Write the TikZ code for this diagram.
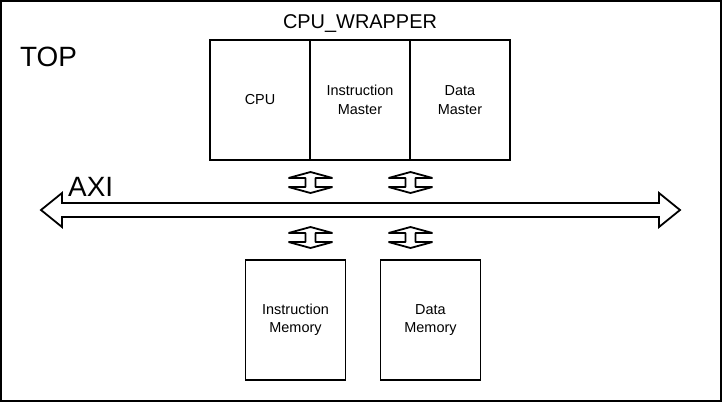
\documentclass[tikz,border=0pt]{standalone}
\usepackage{fontspec}
\setmainfont{Liberation Sans}
\usetikzlibrary{calc}
\begin{document}
\begin{tikzpicture}[x=1bp,y=-1bp,
  box/.style={draw, line width=1.8bp, minimum width=100bp, minimum height=120bp, inner sep=0pt, align=center, font=\fontsize{14.5}{18.5}\selectfont},
  bigtext/.style={font=\fontsize{28}{32}\selectfont, inner sep=0pt, anchor=base west},
  arrline/.style={draw, line width=1.8bp, line join=miter},
  smallarr/.style={draw, line width=1.8bp, line join=bevel},
  vdarrow/.pic={\path[smallarr] (0,-10.5) -- (22,-4.5) -- (5,-4.5) -- (5,4.5) -- (22,4.5) -- (0,10.5) -- (-22,4.5) -- (-5,4.5) -- (-5,-4.5) -- (-22,-4.5) -- cycle;}
]
\useasboundingbox (0,0) rectangle (722,402);
\draw[line width=2bp] (1,1) rectangle (720.5,400.5);

\node[bigtext] (top) at (20,66) {TOP};
\node[font=\fontsize{20}{24}\selectfont, inner sep=0pt, anchor=base] (wrap) at (360,28) {CPU\_WRAPPER};

\node[box] (cpu) at (260,100) {CPU};
\node[box] (im) at (360,100) {Instruction\\Master};
\node[box] (dm) at (460,100) {Data\\Master};

\node[box] (imem) at (295.5,320) {Instruction\\Memory};
\node[box] (dmem) at (430.5,320) {Data\\Memory};

% AXI bus arrow
\coordinate (axil) at (41,210);
\coordinate (axir) at (680,210);
\path[arrline] (axil) -- ++(21,-17) -- ++(0,10) -- ($(axir)+(-21,-7)$) -- ++(0,-10) -- (axir) -- ++(-21,17) -- ++(0,-10) -- ($(axil)+(21,7)$) -- ++(0,10) -- cycle;
\node[bigtext] (axi) at (68,196) {AXI};

% small bidirectional arrows
\coordinate (u1) at (310.5,182.5);
\coordinate (u2) at (410.5,182.5);
\coordinate (l1) at (310.5,237.5);
\coordinate (l2) at (410.5,237.5);
\pic at (u1) {vdarrow};
\pic at (u2) {vdarrow};
\pic at (l1) {vdarrow};
\pic at (l2) {vdarrow};
\end{tikzpicture}
\end{document}
